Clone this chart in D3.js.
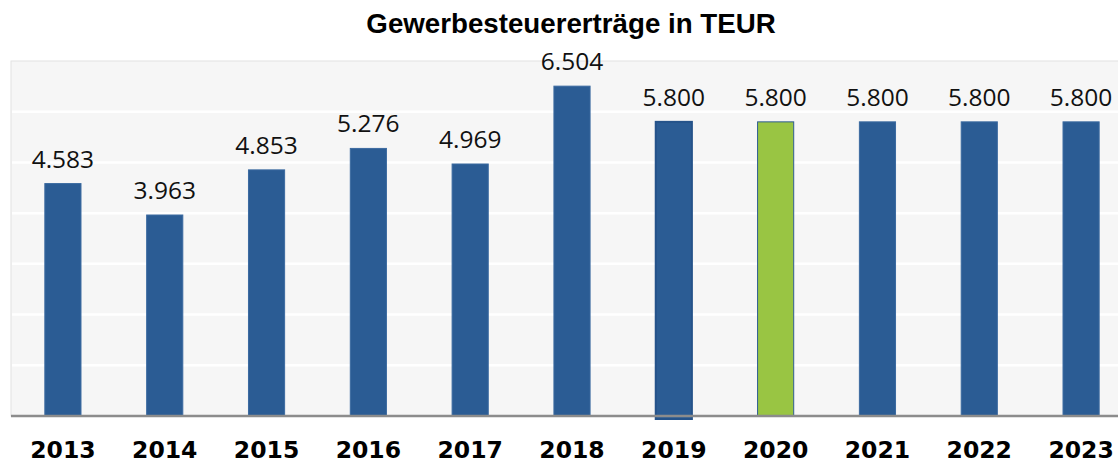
<!DOCTYPE html>
<html>
<head>
<meta charset="utf-8">
<script src="https://cdn.jsdelivr.net/npm/d3@7"></script>
<style>
  body { margin: 0; background: #fff; }
</style>
</head>
<body>
<div id="chart"></div>
<script>
// Data
var years = ["2013", "2014", "2015", "2016", "2017", "2018", "2019", "2020", "2021", "2022", "2023"];
var values = [4583, 3963, 4853, 5276, 4969, 6504, 5800, 5800, 5800, 5800, 5800];
var gridTicks = [1000, 2000, 3000, 4000, 5000, 6000, 7000];

var width = 1118, height = 463;
var plotLeft = 11, plotTop = 61, plotBottom = 416;

var svg = d3.select("#chart").append("svg")
  .attr("width", width)
  .attr("height", height);

// plot area reaches past the right edge, like the original screenshot
var x = d3.scaleBand()
  .domain(years)
  .range([12, 1132])
  .paddingInner(0.645)
  .paddingOuter(0.3225);

var y = d3.scaleLinear()
  .domain([0, 7000])
  .range([plotBottom, plotTop]);

// background
svg.append("rect")
  .attr("x", plotLeft)
  .attr("y", plotTop)
  .attr("width", width - plotLeft + 5)
  .attr("height", plotBottom - plotTop)
  .attr("fill", "#f6f6f6")
  .attr("stroke", "#e2e2e2")
  .attr("stroke-width", 1);

// white gridlines
svg.append("g")
  .selectAll("line")
  .data(gridTicks.slice(0, -1))
  .enter()
  .append("line")
    .attr("x1", plotLeft + 1)
    .attr("x2", width)
    .attr("y1", function(d) { return y(d); })
    .attr("y2", function(d) { return y(d); })
    .attr("stroke", "#ffffff")
    .attr("stroke-width", 2.5);

// bars
svg.append("g")
  .selectAll("rect")
  .data(values)
  .enter()
  .append("rect")
    .attr("x", function(d, i) { return x(years[i]); })
    .attr("y", function(d) { return y(d); })
    .attr("width", x.bandwidth())
    .attr("height", function(d, i) { return plotBottom - y(d) + (years[i] == "2019" ? 3 : 0); })
    .attr("fill", function(d, i) { return years[i] == "2020" ? "#99c543" : "#2b5c94"; })
    .attr("stroke", function(d, i) {
      if (years[i] == "2020") return "#2f5d92";
      if (years[i] == "2019") return "#25538a";
      return "#3b6aa0";
    })
    .attr("stroke-width", function(d, i) { return years[i] == "2019" ? 2 : 1; });

// axis line
svg.append("line")
  .attr("x1", plotLeft)
  .attr("x2", width)
  .attr("y1", plotBottom)
  .attr("y2", plotBottom)
  .attr("stroke", "#8c8c8c")
  .attr("stroke-width", 2.5);

// value labels
svg.append("g")
  .selectAll("text")
  .data(values)
  .enter()
  .append("text")
    .attr("x", function(d, i) { return x(years[i]) + x.bandwidth() / 2; })
    .attr("y", function(d) { return y(d) - 16; })
    .attr("text-anchor", "middle")
    .style("font-family", "'Open Sans', sans-serif")
    .style("font-size", "24.5px")
    .style("fill", "#111")
    .text(function(d) { return d3.format(",")(d).replace(/,/g, "."); });

// year labels
var xAxis = svg.append("g")
  .attr("transform", "translate(0," + plotBottom + ")")
  .call(d3.axisBottom(x).tickSize(0).tickPadding(0));
xAxis.select(".domain").remove();
xAxis.selectAll("text")
  .attr("dy", null)
  .attr("y", 42)
  .style("font-family", "'DejaVu Sans', Verdana, sans-serif")
  .style("font-weight", "bold")
  .style("font-size", "23.5px")
  .style("fill", "#000");

// title
svg.append("text")
  .attr("x", 571)
  .attr("y", 33)
  .attr("text-anchor", "middle")
  .style("font-family", "'Liberation Sans', Arial, sans-serif")
  .style("font-weight", "bold")
  .style("font-size", "27.7px")
  .style("fill", "#000")
  .text("Gewerbesteuererträge in TEUR");
</script>
</body>
</html>
